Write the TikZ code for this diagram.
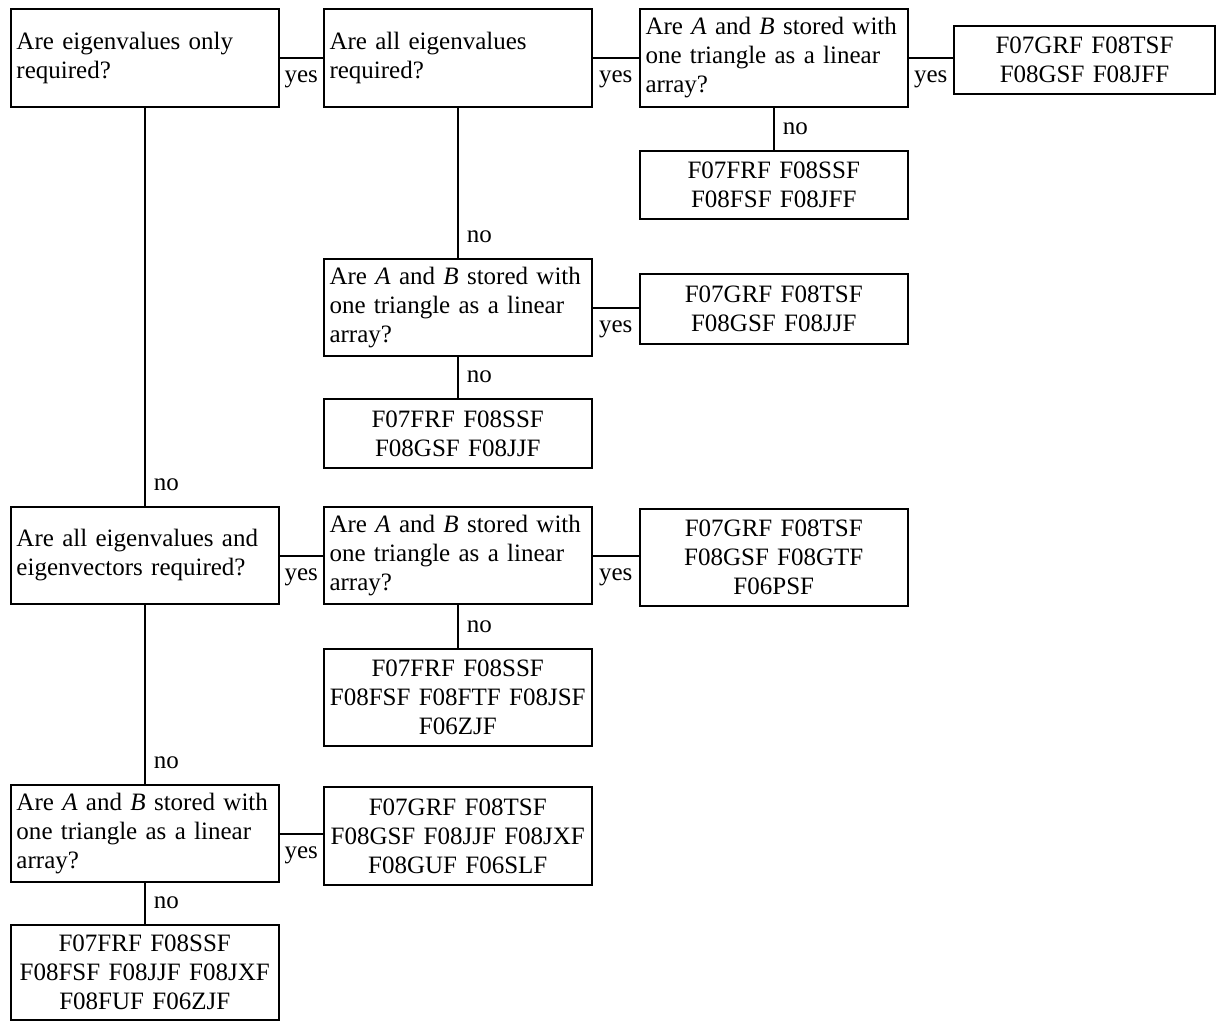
\documentclass[tikz,border=0pt]{standalone}
\usepackage{fontspec}
\setmainfont{Liberation Serif}
\hyphenpenalty=10000
\exhyphenpenalty=10000
\newcommand{\chartfont}{\fontsize{10}{11.6}\selectfont}
\tikzset{
  conn/.style={line width=0.8pt},
  qbox/.style={draw, line width=0.8pt, anchor=north west, text width=102.6pt,
    inner xsep=2.2pt, inner ysep=0pt, align=left, font=\chartfont},
  rbox/.style={qbox, align=center},
  yeslbl/.style={anchor=north, inner sep=0pt, yshift=-4.8pt, font=\chartfont},
  nolbl/.style={anchor=south west, inner sep=0pt, xshift=3.2pt, yshift=5.7pt, font=\chartfont}
}

\begin{document}
\begin{tikzpicture}[x=0.4pt,y=-0.4pt]
\useasboundingbox (0,0) rectangle (1217,1021);

\node[qbox, minimum height=39.2pt] (q1) at (10,8) {Are eigenvalues only required?};
\node[qbox, minimum height=39.2pt] (q2) at (323,8) {Are all eigenvalues required?};
\node[qbox, minimum height=39.2pt] (q3) at (639,8) {Are \textit{A} and \textit{B} stored with one triangle as a linear array?};
\node[rbox, text width=100pt, minimum height=27.2pt] (r1) at (953,25) {F07GRF F08TSF\\F08GSF F08JFF};
\node[rbox, minimum height=27.2pt] (r2) at (639,150) {F07FRF F08SSF\\F08FSF F08JFF};

\node[qbox, minimum height=38.8pt] (q4) at (323,258) {Are \textit{A} and \textit{B} stored with one triangle as a linear array?};
\node[rbox, minimum height=28pt] (r3) at (639,273) {F07GRF F08TSF\\F08GSF F08JJF};
\node[rbox, minimum height=27.6pt] (r4) at (323,398) {F07FRF F08SSF\\F08GSF F08JJF};

\node[qbox, minimum height=38.8pt] (q5) at (10,506) {Are all eigenvalues and eigenvectors required?};
\node[qbox, minimum height=38.8pt] (q6) at (323,506) {Are \textit{A} and \textit{B} stored with one triangle as a linear array?};
\node[rbox, minimum height=38.8pt] (r5) at (639,508) {F07GRF F08TSF\\F08GSF F08GTF\\F06PSF};
\node[rbox, minimum height=38.8pt] (r6) at (323,648) {F07FRF F08SSF\\F08FSF F08FTF F08JSF\\F06ZJF};

\node[qbox, minimum height=38.8pt] (q7) at (10,784) {Are \textit{A} and \textit{B} stored with one triangle as a linear array?};
\node[rbox, minimum height=39.2pt] (r7) at (323,786) {F07GRF F08TSF\\F08GSF F08JJF F08JXF\\F08GUF F06SLF};
\node[rbox, minimum height=38pt] (r8) at (10,924) {F07FRF F08SSF\\F08FSF F08JJF F08JXF\\F08FUF F06ZJF};

\draw[conn] (q1.east) -- node[yeslbl]{yes} (q1.east -| q2.west);
\draw[conn] (q2.east) -- node[yeslbl]{yes} (q2.east -| q3.west);
\draw[conn] (q3.east) -- node[yeslbl]{yes} (q3.east -| r1.west);
\draw[conn] (q3.south) -- (r2.north) node[nolbl]{no};

\draw[conn] (q2.south) -- (q4.north) node[nolbl]{no};
\draw[conn] (q4.east) -- node[yeslbl]{yes} (q4.east -| r3.west);
\draw[conn] (q4.south) -- (r4.north) node[nolbl]{no};

\draw[conn] (q1.south) -- (q5.north) node[nolbl]{no};
\draw[conn] (q5.east) -- node[yeslbl]{yes} (q5.east -| q6.west);
\draw[conn] (q6.east) -- node[yeslbl]{yes} (q6.east -| r5.west);
\draw[conn] (q6.south) -- (r6.north) node[nolbl]{no};

\draw[conn] (q5.south) -- (q7.north) node[nolbl]{no};
\draw[conn] (q7.east) -- node[yeslbl]{yes} (q7.east -| r7.west);
\draw[conn] (q7.south) -- (r8.north) node[nolbl]{no};
\end{tikzpicture}
\end{document}
